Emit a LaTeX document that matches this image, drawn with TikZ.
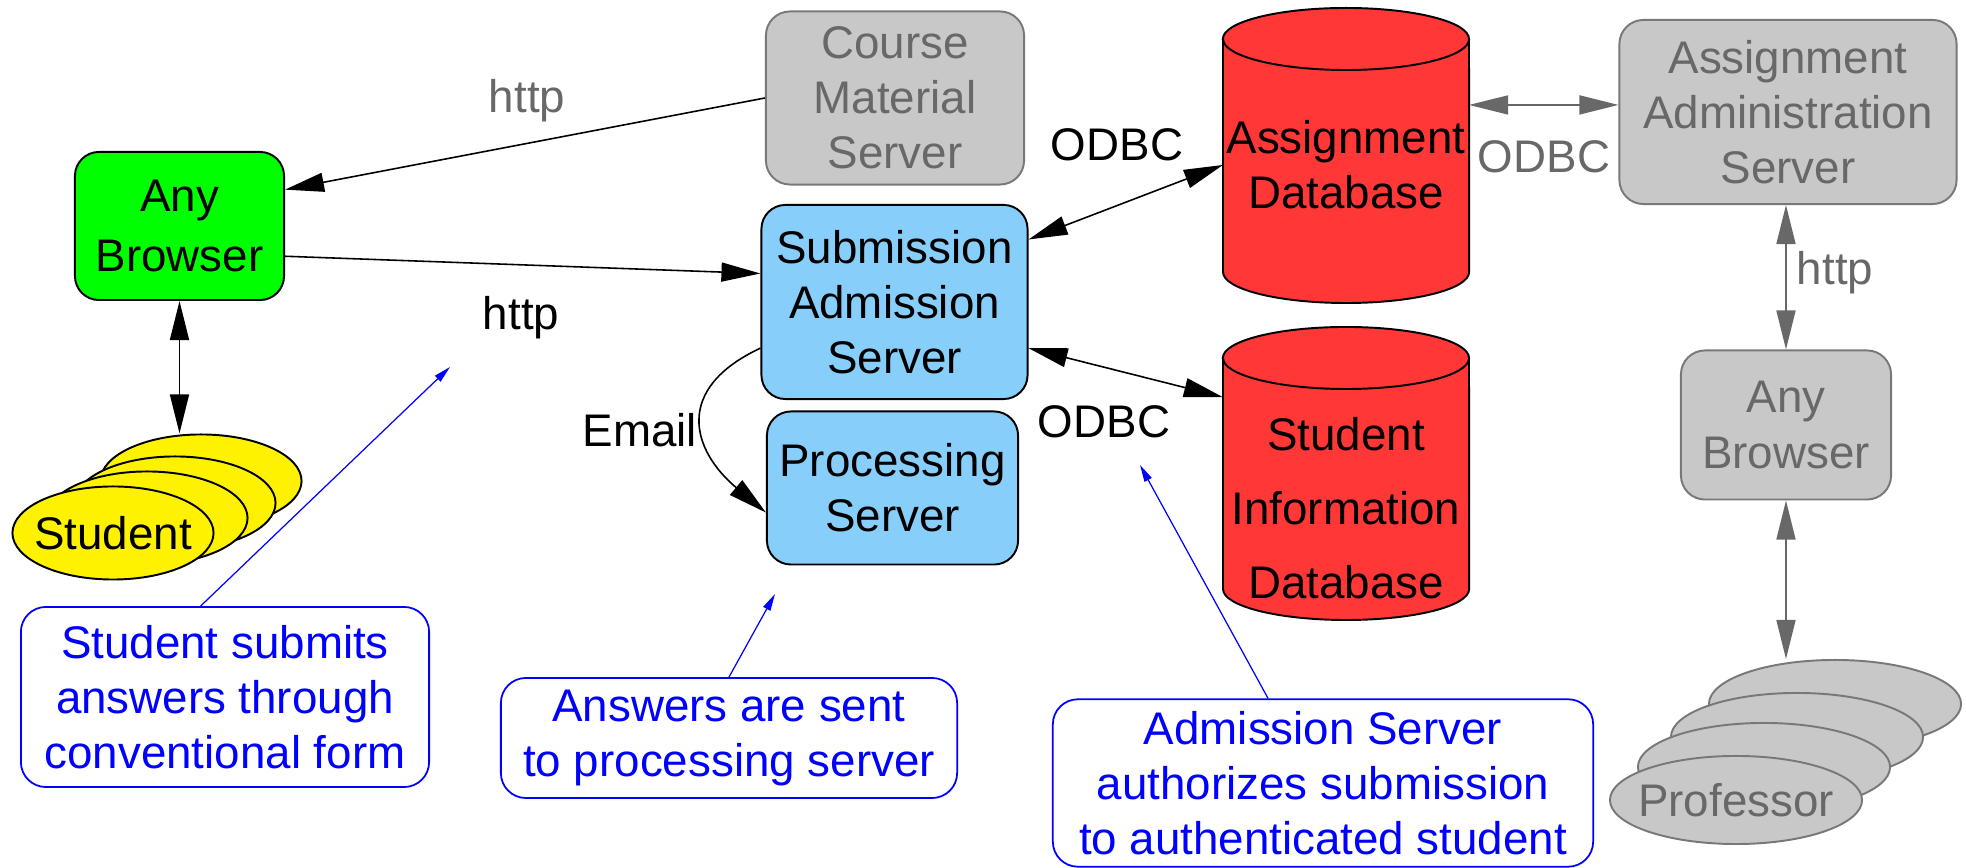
\documentclass[tikz,border=0pt]{standalone}
\usepackage{fontspec}
\setmainfont{Liberation Sans}
\usetikzlibrary{arrows.meta, shapes.geometric}
\definecolor{boxGreen}{RGB}{0,255,0}
\definecolor{boxBlue}{RGB}{135,206,250}
\definecolor{boxGray}{RGB}{200,200,200}
\definecolor{edgeGray}{RGB}{120,120,120}
\definecolor{textGray}{RGB}{104,104,104}
\definecolor{dbRed}{RGB}{255,55,55}
\definecolor{noteBlue}{RGB}{0,0,255}
\newcommand{\nodeFont}{\fontsize{13}{15.7}\selectfont}
\newcommand{\wideFont}{\fontsize{13}{17.2}\selectfont}
\tikzstyle{pixelGrid} = [x = .01cm, y = -.01cm]
\tikzset{bigTip/.tip={Triangle[length=.39cm, width=.19cm]}, smallTip/.tip={Triangle[length=.17cm, width=.08cm]}}
\tikzstyle{serverBox} = [draw=black, line width=.55pt, rounded corners=.24cm, align=center, inner sep=0pt, font=\nodeFont]
\tikzstyle{greenBox} = [serverBox, fill=boxGreen, font=\wideFont]
\tikzstyle{blueBox} = [serverBox, fill=boxBlue]
\tikzstyle{grayBox} = [serverBox, fill=boxGray, draw=edgeGray, text=textGray]
\tikzstyle{noteBox} = [draw=noteBlue, text=noteBlue, line width=.5pt, rounded corners=.25cm, align=center, font=\nodeFont]
\tikzstyle{dbStyle} = [fill=dbRed, draw=black, line width=.55pt]
\tikzstyle{dbText} = [align=center, inner sep=0pt, outer sep=0pt, minimum width=2.46cm, minimum height=2.9cm, font=\nodeFont]
\tikzstyle{studentStyle} = [ellipse, draw=black, fill=yellow, line width=.55pt, inner sep=0pt, minimum width=2.01cm, minimum height=.93cm]
\tikzstyle{profStyle} = [ellipse, draw=edgeGray, fill=boxGray, line width=.55pt, inner sep=0pt, minimum width=2.52cm, minimum height=.88cm]
\tikzstyle{wire} = [font=\nodeFont]
\tikzstyle{grayWire} = [wire, text=textGray]
\tikzstyle{link} = [draw=black, line width=.45pt, -{bigTip}]
\tikzstyle{biLink} = [link, {bigTip}-{bigTip}]
\tikzstyle{grayBiLink} = [biLink, draw=textGray]
\tikzstyle{hintLink} = [draw=noteBlue, line width=.35pt, -{smallTip}]
\newcommand{\dbRim}{31}
\newcommand{\database}[3]{
  \filldraw [dbStyle] (#1, #2 + \dbRim) -- (#1, #3 - \dbRim)
    arc [start angle=180, end angle=360, x radius=1.23cm, y radius=.31cm]
    -- (#1 + 246, #2 + \dbRim)
    arc [start angle=0, end angle=180, x radius=1.23cm, y radius=.31cm] -- cycle;
  \draw [dbStyle, fill=none] (#1, #2 + \dbRim) arc [start angle=180, end angle=360, x radius=1.23cm, y radius=.31cm];
}
\begin{document}
\begin{tikzpicture}[pixelGrid]
  \useasboundingbox (0,0) rectangle (1966,868);

  % databases
  \database{1223}{8}{303}
  \database{1223}{327}{620}
  \node[dbText] (assignDb) at (1346,165) {Assignment\\Database};
  \node[dbText, font=\fontsize{13}{21}\selectfont] (studentDb) at (1346,508) {Student\\Information\\Database};

  % servers and browsers
  \node[greenBox, minimum width=2.09cm, minimum height=1.48cm] (browserA) at (179.5,226) {Any\\Browser};
  \node[grayBox, minimum width=2.58cm, minimum height=1.73cm] (course) at (895,98) {Course\\Material\\Server};
  \node[blueBox, minimum width=2.66cm, minimum height=1.94cm] (submit) at (894.5,302) {Submission\\Admission\\Server};
  \node[blueBox, minimum width=2.51cm, minimum height=1.53cm] (process) at (892.5,488) {Processing\\Server};
  \node[grayBox, minimum width=3.37cm, minimum height=1.84cm] (adminServer) at (1788,112) {Assignment\\Administration\\Server};
  \node[grayBox, minimum width=2.10cm, minimum height=1.49cm] (browserB) at (1786,425) {Any\\Browser};

  % people
  \foreach \dx/\dy/\n in {88/-52/3, 62/-30/2, 34/-15/1}
    \node[studentStyle] (student\n) at (113 + \dx, 533 + \dy) {};
  \node[studentStyle, label={[font=\nodeFont]center:Student}] (student) at (113,533) {};
  \foreach \dx/\dy/\n in {99/-96/3, 61/-63/2, 28/-33/1}
    \node[profStyle] (prof\n) at (1736 + \dx, 800 + \dy) {};
  \node[profStyle, label={[font=\nodeFont, text=textGray]center:Professor}] (prof) at (1736,800) {};

  % connections
  \draw[link] (course.west) -- (browserA.19);
  \draw[link] (browserA.-16) -- (submit.168);
  \draw[biLink] (browserA.south) -- (browserA.south |- student3.north);
  \draw[biLink] (submit.25) -- (assignDb.west);
  \draw[biLink] (submit.-19) -- (studentDb.138);
  \draw[link] (submit.199) to[out=205, in=140, looseness=1.5] (process.191);
  \draw[grayBiLink] (assignDb.26) -- (adminServer.west |- assignDb.26);
  \draw[grayBiLink] (adminServer.south -| browserB.north) -- (browserB.north);
  \draw[grayBiLink] (browserB.south) -- (browserB.south |- prof3.north);

  % wire labels
  \node[grayWire] (httpCourse) at (527,101) {http};
  \node[wire] (httpSubmit) at (521,318) {http};
  \node[wire] (emailLabel) at (640,430) {Email};
  \node[wire] (odbcAssign) at (1117,145) {ODBC};
  \node[wire] (odbcStudent) at (1104,422) {ODBC};
  \node[grayWire] (odbcAdmin) at (1544,157) {ODBC};
  \node[grayWire] (httpAdmin) at (1835,273) {http};

  % notes
  \node[noteBox, minimum width=4.08cm, minimum height=1.8cm] (noteSubmit) at (225,697) {Student submits\\answers through\\conventional form};
  \node[noteBox, minimum width=4.56cm, minimum height=1.2cm] (noteProcess) at (729,738) {Answers are sent\\to processing server};
  \node[noteBox, minimum width=5.40cm, minimum height=1.65cm] (noteAuth) at (1323,783) {Admission Server\\authorizes submission\\to authenticated student};
  \coordinate (submitHint) at (450,367);
  \coordinate (processHint) at (775,594);
  \coordinate (authHint) at (1140,465);
  \draw[hintLink] (noteSubmit.105) -- (submitHint);
  \draw[hintLink] (noteProcess.north) -- (processHint);
  \draw[hintLink] (noteAuth.123) -- (authHint);
\end{tikzpicture}
\end{document}
